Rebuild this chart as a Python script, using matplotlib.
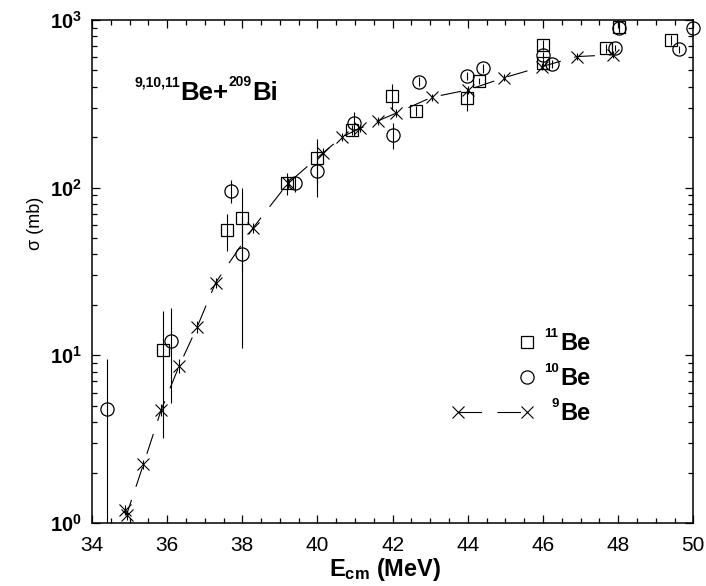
import math

import matplotlib

matplotlib.use("Agg")

import matplotlib.pyplot as plt
from matplotlib.legend_handler import HandlerLine2D
from matplotlib.lines import Line2D
from matplotlib.ticker import FuncFormatter, LogLocator, MultipleLocator


# 11Be (squares)
e11 = [35.88, 37.58, 37.99, 39.18, 40.00, 40.91, 41.98, 42.61, 43.99, 44.30,
       46.01, 46.01, 47.68, 48.01, 49.41]
s11 = [10.8, 56, 65.7, 107, 150, 221, 352, 286, 341, 433,
       709, 552, 678, 912, 760]
d11 = [7.6, 14, 34, 16, 45, 15, 62, 20, 54, 20,
       50, 30, 40, 60, 50]

# 10Be (circles)
e10 = [34.39, 36.09, 37.70, 38.00, 39.40, 39.98, 40.98, 42.00, 42.71, 43.99,
       44.41, 46.01, 46.23, 47.92, 48.01, 49.62, 50.00]
s10 = [4.79, 12.2, 95.5, 40, 106, 126, 242, 206, 429, 464,
       515, 618, 544, 684, 900, 668, 892]
d10 = [4.7, 7.0, 15, 29, 12, 38, 40, 36, 25, 25,
       30, 30, 30, 30, 50, 35, 40]

# 9Be (crosses, dashed line)
e9 = [34.88, 34.92, 35.37, 35.84, 36.32, 36.80, 37.29, 38.28, 39.21, 40.16,
      40.66, 41.13, 41.62, 42.09, 43.04, 44.01, 44.97, 45.97, 46.90, 47.87]
s9 = [1.20, 1.12, 2.24, 4.72, 8.65, 14.8, 27.1, 57.3, 106, 162,
      201, 226, 251, 278, 346, 383, 453, 527, 605, 620]
d9 = [0.08, 0.08, 0.15, 0.4, 0.8, 1.2, 2.0, 4, 8, 10,
      12, 12, 14, 15, 18, 20, 22, 25, 28, 30]

labels = ["Be", "Be", "Be"]
label_sups = ["11", "10", "9"]


class EndMarker(HandlerLine2D):
    # single legend marker at the right end of the handle
    def create_artists(self, *args, **kwargs):
        artists = super().create_artists(*args, **kwargs)
        artists[0].set_markevery([2])
        return artists


def setup_style():
    plt.rcParams.update(
        {
            "font.family": "Liberation Sans",
            "mathtext.fontset": "custom",
            "mathtext.rm": "Liberation Sans",
            "mathtext.bf": "Liberation Sans:bold",
            "mathtext.it": "Liberation Sans:italic",
            "axes.linewidth": 1.1,
            "lines.scale_dashes": False,
        }
    )


def rich_text(ax, x, y, pieces):
    # bold pieces laid out left to right, each (text, size, raise in pt)
    fig = ax.figure
    r = fig.canvas.get_renderer()
    dx = 0.0
    for s, size, rise in pieces:
        t = ax.annotate(s, xy=(x, y), xycoords="axes fraction",
                        xytext=(dx, rise), textcoords="offset points",
                        fontsize=size, fontweight="bold",
                        ha="left", va="baseline")
        dx += t.get_window_extent(r).width * 72 / fig.dpi


def main():
    fig = plt.figure(figsize=(7.06, 5.86), dpi=100)
    ax = fig.add_axes([0.1303, 0.1075, 0.8517, 0.8584])

    ax.set_yscale("log")
    ax.set_xlim(34, 50)
    ax.set_ylim(1, 1000)

    err = dict(fmt="none", ecolor="k", elinewidth=0.8, capsize=0)
    ax.errorbar(e11, s11, yerr=d11, **err)
    ax.errorbar(e10, s10, yerr=d10, **err)
    ax.errorbar(e9, s9, yerr=d9, **err)

    sq, = ax.plot(e11, s11, ls="none", marker="s", ms=8, mfc="none",
                  mec="k", mew=0.9, clip_on=False)
    ci, = ax.plot(e10, s10, ls="none", marker="o", ms=9.5, mfc="none",
                  mec="k", mew=0.9, clip_on=False)
    ax.plot(e9, s9, color="k", lw=0.8, dashes=(15, 10), marker="x", ms=9,
            mew=0.8, mec="k")

    be9 = Line2D([], [], color="k", lw=0.8, ls=(0, (17, 11)), marker="x",
                 ms=9, mew=0.8, mec="k")

    leg = ax.legend(
        [sq, ci, be9],
        labels,
        handler_map={
            sq: EndMarker(numpoints=1),
            ci: EndMarker(numpoints=1),
            be9: HandlerLine2D(numpoints=2, marker_pad=0),
        },
        loc="upper left",
        bbox_to_anchor=(0.593, 0.398),
        borderaxespad=0,
        frameon=False,
        prop={"size": 17, "weight": "bold"},
        handlelength=2.92,
        handletextpad=1.4,
        labelspacing=0.5,
    )

    # ticks
    ax.xaxis.set_major_locator(MultipleLocator(2))
    ax.xaxis.set_minor_locator(MultipleLocator(0.5))
    ax.yaxis.set_major_locator(LogLocator(base=10, numticks=10))
    ax.yaxis.set_minor_locator(LogLocator(base=10, subs=range(2, 10), numticks=10))
    ax.yaxis.set_major_formatter(
        FuncFormatter(lambda v, p: r"$\mathbf{10}^{\mathbf{%d}}$" % round(math.log10(v)))
    )
    ax.tick_params(which="both", direction="in", top=True, right=True, width=0.9)
    ax.tick_params(which="major", length=6)
    ax.tick_params(which="minor", length=3.5)
    ax.tick_params(axis="x", labelsize=15, pad=9)
    ax.tick_params(axis="y", labelsize=14.5, pad=7)

    ax.set_xlabel(r"$\mathbf{E}_{\mathbf{cm}}\ \mathbf{(MeV)}$", fontsize=17, labelpad=0)
    ax.xaxis.set_label_coords(0.488, -0.066)
    ax.set_ylabel("σ (mb)", fontsize=13)
    ax.yaxis.set_label_coords(-0.08, 0.595)

    fig.canvas.draw()
    rich_text(ax, 0.0715, 0.841,
              [("9,10,11", 10, 10), ("Be+", 18.5, 0), ("209", 10, 10), ("Bi", 18.5, 0)])

    # superscripts in front of the legend labels
    for t, sup in zip(leg.get_texts(), label_sups):
        ax.annotate(sup, xy=(0, 1), xycoords=t, xytext=(-1, -3.5),
                    textcoords="offset points", fontsize=9.5,
                    fontweight="bold", ha="right", va="baseline")

    fig.savefig("out.png", dpi=100)


if __name__ == "__main__":
    setup_style()
    main()
